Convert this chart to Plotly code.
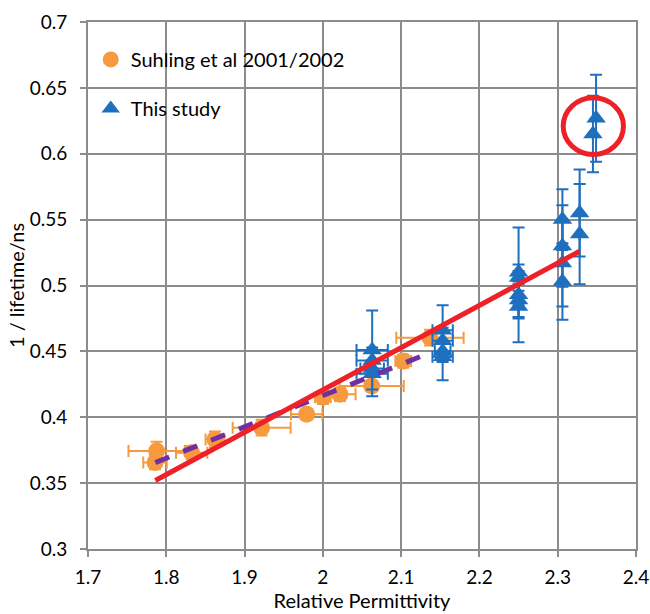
import plotly.graph_objects as go

# Suhling et al 2001/2002 (orange circles)
suhling_x = [1.7877, 1.7856, 1.8324, 1.8622, 1.9218, 1.9793, 2.0001, 2.0218, 2.0623, 2.1027, 2.1368]
suhling_y = [0.3744, 0.3656, 0.3731, 0.3832, 0.3921, 0.4022, 0.4151, 0.4174, 0.4237, 0.4426, 0.4604]
suhling_xerr = [0.036, 0.015, 0.020, 0.012, 0.037, 0.020, 0.010, 0.020, 0.041, 0.010, 0.043]
suhling_yerr = [0.007, 0.005, 0.005, 0.006, 0.006, 0.004, 0.005, 0.005, 0.004, 0.005, 0.006]

# This study (blue triangles)
study_x = [2.063, 2.063, 2.063, 2.063,
           2.153, 2.153, 2.153, 2.153,
           2.250, 2.250, 2.250, 2.250, 2.250,
           2.306, 2.306, 2.306, 2.306,
           2.328, 2.328,
           2.349, 2.345]
study_y = [0.451, 0.443, 0.437, 0.433,
           0.466, 0.458, 0.450, 0.446,
           0.510, 0.506, 0.493, 0.489, 0.484,
           0.550, 0.530, 0.517, 0.503,
           0.555, 0.539,
           0.627, 0.615]
study_yerr = [0.030, 0.010, 0.006, 0.017,
              0.019, 0.010, 0.008, 0.018,
              0.034, 0.010, 0.008, 0.014, 0.027,
              0.023, 0.031, 0.033, 0.029,
              0.033, 0.038,
              0.033, 0.029]
study_xerr = [0.020, 0.020, 0.015, 0.020,
              0.013, 0.013, 0.010, 0.013,
              0, 0, 0, 0, 0,
              0, 0, 0, 0,
              0, 0,
              0, 0]

# Fit lines
fit_all_x = [1.786, 2.328]
fit_all_y = [0.352, 0.526]
fit_suhling_x = [1.786, 2.137]
fit_suhling_y = [0.3656, 0.449]

# Highlight circle (centre, radii) in data units
circle_center = [2.3455, 0.621]
circle_radius = [0.0385, 0.0215]

x_ticks = [1.7, 1.8, 1.9, 2.0, 2.1, 2.2, 2.3, 2.4]
x_ticklabels = ["1.7", "1.8", "1.9", "2", "2.1", "2.2", "2.3", "2.4"]
y_ticks = [0.3, 0.35, 0.4, 0.45, 0.5, 0.55, 0.6, 0.65, 0.7]
y_ticklabels = ["0.3", "0.35", "0.4", "0.45", "0.5", "0.55", "0.6", "0.65", "0.7"]

ORANGE = "#F79A3E"
BLUE = "#1F6FBF"
RED = "#EE2028"
PURPLE = "#7030A0"
GRID = "#8C8C8C"
FONT = "Lato"

fig = go.Figure()

fig.add_trace(go.Scatter(
    x=suhling_x, y=suhling_y, mode="markers", name="Suhling et al 2001/2002",
    legendgroup="a",
    marker=dict(symbol="circle", size=17, color=ORANGE),
    error_x=dict(type="data", array=suhling_xerr, color=ORANGE, thickness=2, width=6),
    error_y=dict(type="data", array=suhling_yerr, color=ORANGE, thickness=2, width=6),
))

fig.add_trace(go.Scatter(
    x=study_x, y=study_y, mode="markers", name="This study",
    legendgroup="b",
    marker=dict(symbol="triangle-up", size=17, color=BLUE),
    error_x=dict(type="data", array=study_xerr, color=BLUE, thickness=2, width=6),
    error_y=dict(type="data", array=study_yerr, color=BLUE, thickness=2, width=6),
))

fig.add_trace(go.Scatter(
    x=fit_suhling_x, y=fit_suhling_y, mode="lines", showlegend=False,
    line=dict(color=PURPLE, width=5, dash="dash"),
))

fig.add_trace(go.Scatter(
    x=fit_all_x, y=fit_all_y, mode="lines", showlegend=False,
    line=dict(color=RED, width=5),
))

fig.add_shape(
    type="circle", xref="x", yref="y",
    x0=circle_center[0] - circle_radius[0], x1=circle_center[0] + circle_radius[0],
    y0=circle_center[1] - circle_radius[1], y1=circle_center[1] + circle_radius[1],
    line=dict(color=RED, width=5),
)

axis_common = dict(
    showgrid=True, gridcolor=GRID, gridwidth=2,
    showline=True, linecolor=GRID, linewidth=2, mirror=True,
    ticks="outside", ticklen=6, tickcolor=GRID, tickwidth=2,
    zeroline=False, automargin=False,
    tickfont=dict(family=FONT, size=19, color="#000000"),
)

fig.update_xaxes(
    range=[1.7, 2.4], tickvals=x_ticks, ticktext=x_ticklabels,
    ticklabelstandoff=4,
    title=dict(text="Relative Permittivity", font=dict(family=FONT, size=20, color="#000000"), standoff=5),
    **axis_common,
)
fig.update_yaxes(
    range=[0.3, 0.7], tickvals=y_ticks, ticktext=y_ticklabels,
    ticklabelstandoff=9,
    title=dict(text="1 / lifetime/ns", font=dict(family=FONT, size=20, color="#000000"), standoff=0),
    **axis_common,
)

fig.update_layout(
    width=650, height=614,
    margin=dict(l=88, r=14, t=22, b=65),
    plot_bgcolor="white", paper_bgcolor="white",
    font=dict(family=FONT, size=20, color="#000000"),
    showlegend=True,
    legend=dict(
        x=0.005, y=0.966, xanchor="left", yanchor="top",
        bgcolor="rgba(0,0,0,0)", borderwidth=0,
        traceorder="grouped", tracegroupgap=20, itemwidth=30,
        font=dict(family=FONT, size=20, color="#000000"),
    ),
)

fig.write_html("out.html", config={"displayModeBar": False},
               post_script="document.body.style.margin='0';")
